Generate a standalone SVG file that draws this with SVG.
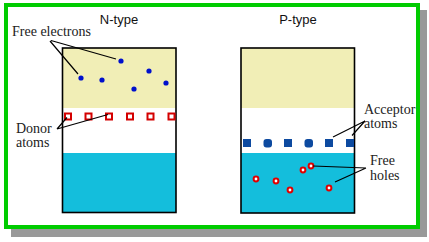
<svg xmlns="http://www.w3.org/2000/svg" width="429" height="242" viewBox="0 0 429 242">
<style>
.title{font-family:"Liberation Sans",Arial,sans-serif;font-size:13px;fill:#111}
.lbl{font-family:"Liberation Serif","Times New Roman",serif;font-size:14px;fill:#222}
.box{fill:none;stroke:#000;stroke-width:1.6}
.yel{fill:#F1EEB6}
.cyan{fill:#14BEDC}
.donor{fill:#fff;stroke:#D40000;stroke-width:2}
.acc{fill:#0D4AA0}
.e{fill:#0010CC}
.hole{fill:#fff;stroke:#E00000;stroke-width:2}
.lead{stroke:#000;stroke-width:1.2;fill:none}
</style>
<rect x="11" y="10" width="416" height="227" fill="#999"/>
<rect x="6" y="5" width="412" height="222" fill="#fff" stroke="#00CC00" stroke-width="4"/>

<g id="ntype">
  <text class="title" x="119" y="24" text-anchor="middle">N-type</text>
  <rect class="yel" x="62.5" y="48" width="113.5" height="60"/>
  <rect class="cyan" x="62.5" y="153" width="113.5" height="59.5"/>
  <rect class="box" x="62.5" y="48" width="113.5" height="164.5"/>
  <g id="electrons">
    <circle class="e" cx="121" cy="61" r="2.6"/>
    <circle class="e" cx="149" cy="71" r="2.6"/>
    <circle class="e" cx="81" cy="78" r="2.6"/>
    <circle class="e" cx="102" cy="80" r="2.6"/>
    <circle class="e" cx="134" cy="89" r="2.6"/>
    <circle class="e" cx="166" cy="83" r="2.6"/>
  </g>
  <g id="donors">
    <rect class="donor" x="65" y="113.5" width="6" height="6"/>
    <rect class="donor" x="85.5" y="113.5" width="6" height="6"/>
    <rect class="donor" x="106" y="113.5" width="6" height="6"/>
    <rect class="donor" x="127" y="113.5" width="6" height="6"/>
    <rect class="donor" x="147.5" y="113.5" width="6" height="6"/>
    <rect class="donor" x="168.5" y="113.5" width="6" height="6"/>
  </g>
</g>

<g id="ptype">
  <text class="title" x="298" y="24" text-anchor="middle">P-type</text>
  <rect class="yel" x="241" y="48" width="113.5" height="60"/>
  <rect class="cyan" x="241" y="153" width="113.5" height="60"/>
  <rect class="box" x="241" y="48" width="113.5" height="165"/>
  <g id="acceptors">
    <rect class="acc" x="243" y="139" width="8" height="8"/>
    <rect class="acc" x="263.5" y="139" width="8.5" height="8.5" rx="3"/>
    <rect class="acc" x="284" y="139" width="8" height="8"/>
    <rect class="acc" x="304.5" y="139" width="8.5" height="8.5" rx="3"/>
    <rect class="acc" x="325" y="139" width="8" height="8"/>
    <rect class="acc" x="346" y="139" width="8" height="8"/>
  </g>
  <g id="holes">
    <circle class="hole" cx="256" cy="179" r="2.4"/>
    <circle class="hole" cx="276" cy="181" r="2.4"/>
    <circle class="hole" cx="290" cy="190" r="2.4"/>
    <circle class="hole" cx="303" cy="170" r="2.4"/>
    <circle class="hole" cx="311" cy="166" r="2.4"/>
    <circle class="hole" cx="329" cy="188" r="2.4"/>
  </g>
</g>

<g id="label-free-electrons"><text class="lbl" x="12" y="36">Free electrons</text></g>
<g id="label-donor"><text class="lbl" x="16" y="133">Donor</text><text class="lbl" x="16" y="147">atoms</text></g>
<g id="label-acceptor"><text class="lbl" x="364" y="114">Acceptor</text><text class="lbl" x="364" y="127.5">atoms</text></g>
<g id="label-holes"><text class="lbl" x="370" y="165">Free</text><text class="lbl" x="370" y="180">holes</text></g>

<g id="connectors">
  <path class="lead" d="M51 40.5 L116 59 M50 41 L78 74"/>
  <path class="lead" d="M57 129 L67 117.5 M57 129 L108 114.5"/>
  <path class="lead" d="M365 121 L333 137 M365 121 L352 135.5"/>
  <path class="lead" d="M366 168 L313 166 M366 168 L335 182"/>
</g>
</svg>
